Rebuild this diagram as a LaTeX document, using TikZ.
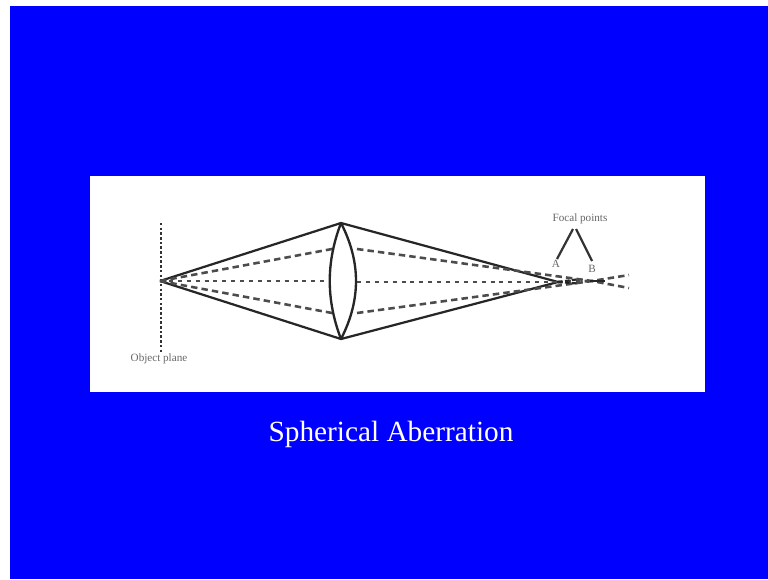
\documentclass[tikz,border=0pt]{standalone}
\usepackage{fontspec}
\setmainfont{Liberation Serif}
\usetikzlibrary{calc}
\definecolor{slideblue}{RGB}{0,0,255}
\tikzset{
  ray line/.style={line width=1.9pt,black!85},
  axis ray/.style={line width=2.4pt,black!70,dash pattern=on 3.4pt off 4.2pt},
  outer ray/.style={line width=2.2pt,black!70,dash pattern=on 5.5pt off 3.5pt},
  object line/.style={line width=2.4pt,black!80,dash pattern=on 2.1pt off 1.9pt},
  lens line/.style={line width=2pt,black!85},
  pointer line/.style={line width=1.9pt,black!80},
  small label/.style={font=\fontsize{9.5}{11}\selectfont,text=black!60,inner sep=0pt},
}
\begin{document}
\begin{tikzpicture}[x=0.03cm,y=-0.03cm]
\useasboundingbox (0,0) rectangle (768,579);
\fill[slideblue] (10,6) rectangle (768,579);
\fill[white] (90,176) rectangle (705,392);
% object plane and rays up to the lens
\coordinate (objectPoint) at (160,281);
\coordinate (lensTop) at (341,223);
\coordinate (lensBottom) at (341,339);
\coordinate (lensInTop) at (332,249);
\coordinate (lensInMid) at (329,281);
\coordinate (lensInBottom) at (332,313);
\coordinate (lensOutTop) at (357,249);
\coordinate (lensOutMid) at (357,282);
\coordinate (lensOutBottom) at (357,313);
\coordinate (focusA) at (558,282);
\coordinate (focusB) at (592,281);
\coordinate (planeTop) at (161,223);
\coordinate (planeEnd) at (161,353);
\draw[object line] (planeTop) -- (planeEnd);
\draw[ray line] (objectPoint) -- (lensTop) -- (focusA);
\draw[ray line] (objectPoint) -- (lensBottom) -- (focusA);
\draw[outer ray] (objectPoint) -- (lensInTop);
\draw[outer ray] (objectPoint) -- (lensInBottom);
\draw[axis ray] (objectPoint) -- (lensInMid);
\draw[axis ray] (lensOutMid) -- (focusA);
% lens
\draw[lens line] (lensTop) .. controls (326,262) and (326,300) .. (lensBottom);
\draw[lens line] (lensTop) .. controls (361,262) and (361,300) .. (lensBottom);
% rays past the focal points
\coordinate (spreadTop) at (629,275);
\coordinate (spreadBottom) at (629,288);
\coordinate (barStart) at (590,281);
\coordinate (barEnd) at (605,281);
\draw[outer ray] (lensOutTop) -- (focusB) -- (spreadBottom);
\draw[outer ray] (lensOutBottom) -- (focusB) -- (spreadTop);
\draw[axis ray] (focusA) -- (barStart);
\draw[ray line] (barStart) -- (barEnd);
\draw[ray line,dash pattern=on 4pt off 2pt] (focusA) -- ($(focusA)!0.55!(focusB)+(0,2)$);
\draw[ray line,dash pattern=on 4pt off 2pt] (focusA) -- ($(focusA)!0.55!(focusB)+(0,-2)$);
% labels
\node[small label] (objectLabel) at (159,359) {Object plane};
\node[small label] (focalLabel) at (580,219) {Focal points};
\node[small label] (labelA) at (556,264) {A};
\node[small label] (labelB) at (592,269) {B};
\coordinate (apexLeft) at (573,229);
\coordinate (apexRight) at (576,229);
\coordinate (footA) at (557,259);
\coordinate (footB) at (592,261);
\draw[pointer line] (apexLeft) -- (footA);
\draw[pointer line] (apexRight) -- (footB);
\node[text=white,font=\fontsize{25}{28}\selectfont,inner sep=0pt] (slideTitle) at (391,434) {Spherical Aberration};
\end{tikzpicture}
\end{document}
